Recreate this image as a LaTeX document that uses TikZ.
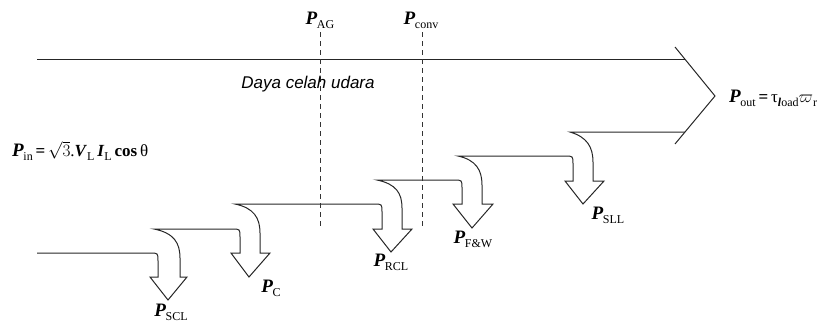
\documentclass[tikz,border=0pt]{standalone}
\usepackage{fontspec}
\setmainfont{Liberation Serif}
\newfontfamily\arialfont{Liberation Sans}
\newcommand\Sb[1]{\raisebox{-0.5ex}{\fontsize{12}{12}\selectfont #1}}
\newcommand\Pl[1]{{\fontsize{19}{19}\selectfont\textbf{\textit{P}}}\kern-0.5pt\Sb{#1}}
\begin{document}
\begin{tikzpicture}[x=1pt,y=-1pt,
  flow/.style={draw=black!85,line width=1pt,line join=miter},
  guide/.style={draw=black!80,line width=0.7pt,dash pattern=on 5pt off 4pt},
  lbl/.style={inner sep=0pt,font=\fontsize{17}{17}\selectfont}]
\useasboundingbox (0,0) rectangle (825,327);
% top power line and arrowhead
\coordinate (tl) at (37,59);
\coordinate (tr) at (685,59);
\coordinate (hu) at (675,47);
\coordinate (ha) at (715,96);
\coordinate (hl) at (675,144);
\coordinate (br) at (685,132);
\draw[flow] (tl) -- (tr);
\draw[flow] (hu) -- (ha) -- (hl);
% lower contour with loss arrows
\draw[flow] (37,253) -- (150,253) .. controls (158,253) .. (158,261) -- (158,277) -- (150,277) -- (168,300) -- (187,277) -- (180,277) -- (180,258)
  .. controls (180,243) and (174,233) .. (154,229)
  -- (232,229) .. controls (240,229) .. (240,237) -- (240,253) -- (231,253) -- (249,277) -- (270,253) -- (260,253) -- (260,233)
  .. controls (260,218) and (254,208) .. (235,204)
  -- (374,204) .. controls (382,204) .. (382,212) -- (382,229) -- (373,229) -- (391,252) -- (412,229) -- (402,229) -- (402,208)
  .. controls (402,193) and (396,184) .. (377,180)
  -- (454,180) .. controls (462,180) .. (462,188) -- (462,204) -- (453,204) -- (472,228) -- (493,204) -- (482,204) -- (482,185)
  .. controls (482,170) and (476,160) .. (458,156)
  -- (565,156) .. controls (573,156) .. (573,164) -- (573,181) -- (565,181) -- (583,204) -- (604,181) -- (593,181) -- (593,162)
  .. controls (593,147) and (587,137) .. (570,132)
  -- (br);
% dashed guides
\node[lbl] (pag) at (320,20) {\Pl{AG}};
\node[lbl] (pconv) at (421,20) {\Pl{conv}};
\coordinate (ag2) at (320,228);
\coordinate (cv2) at (422,228);
\draw[guide] (pag.south) ++(0,4) -- (ag2);
\draw[guide] (pconv.south) ++(1,4) -- (cv2);
% labels
\node[inner sep=0pt,font=\arialfont\itshape\fontsize{17}{17}\selectfont] (daya) at (308,84) {Daya celah udara};
\node[lbl,anchor=west] (pin) at (12,151) {\Pl{in}\,\textbf{=}\,$\sqrt{3}$.\textbf{\textit{V}}\Sb{L}\,\textbf{\textit{I}}\Sb{L}\,\textbf{cos}\,θ};
\node[lbl,anchor=west] (pout) at (729,98) {\Pl{out}\,\textbf{=}\,τ\Sb{\textbf{\textit{l}}oad}$\varpi$\Sb{r}};
\node[lbl] (pscl) at (171,312) {\Pl{SCL}};
\node[lbl] (pc) at (271,288) {\Pl{C}};
\node[lbl] (prcl) at (391,262) {\Pl{RCL}};
\node[lbl] (pfw) at (473,239) {\Pl{F\&W}};
\node[lbl] (psll) at (608,215) {\Pl{SLL}};
\end{tikzpicture}
\end{document}
